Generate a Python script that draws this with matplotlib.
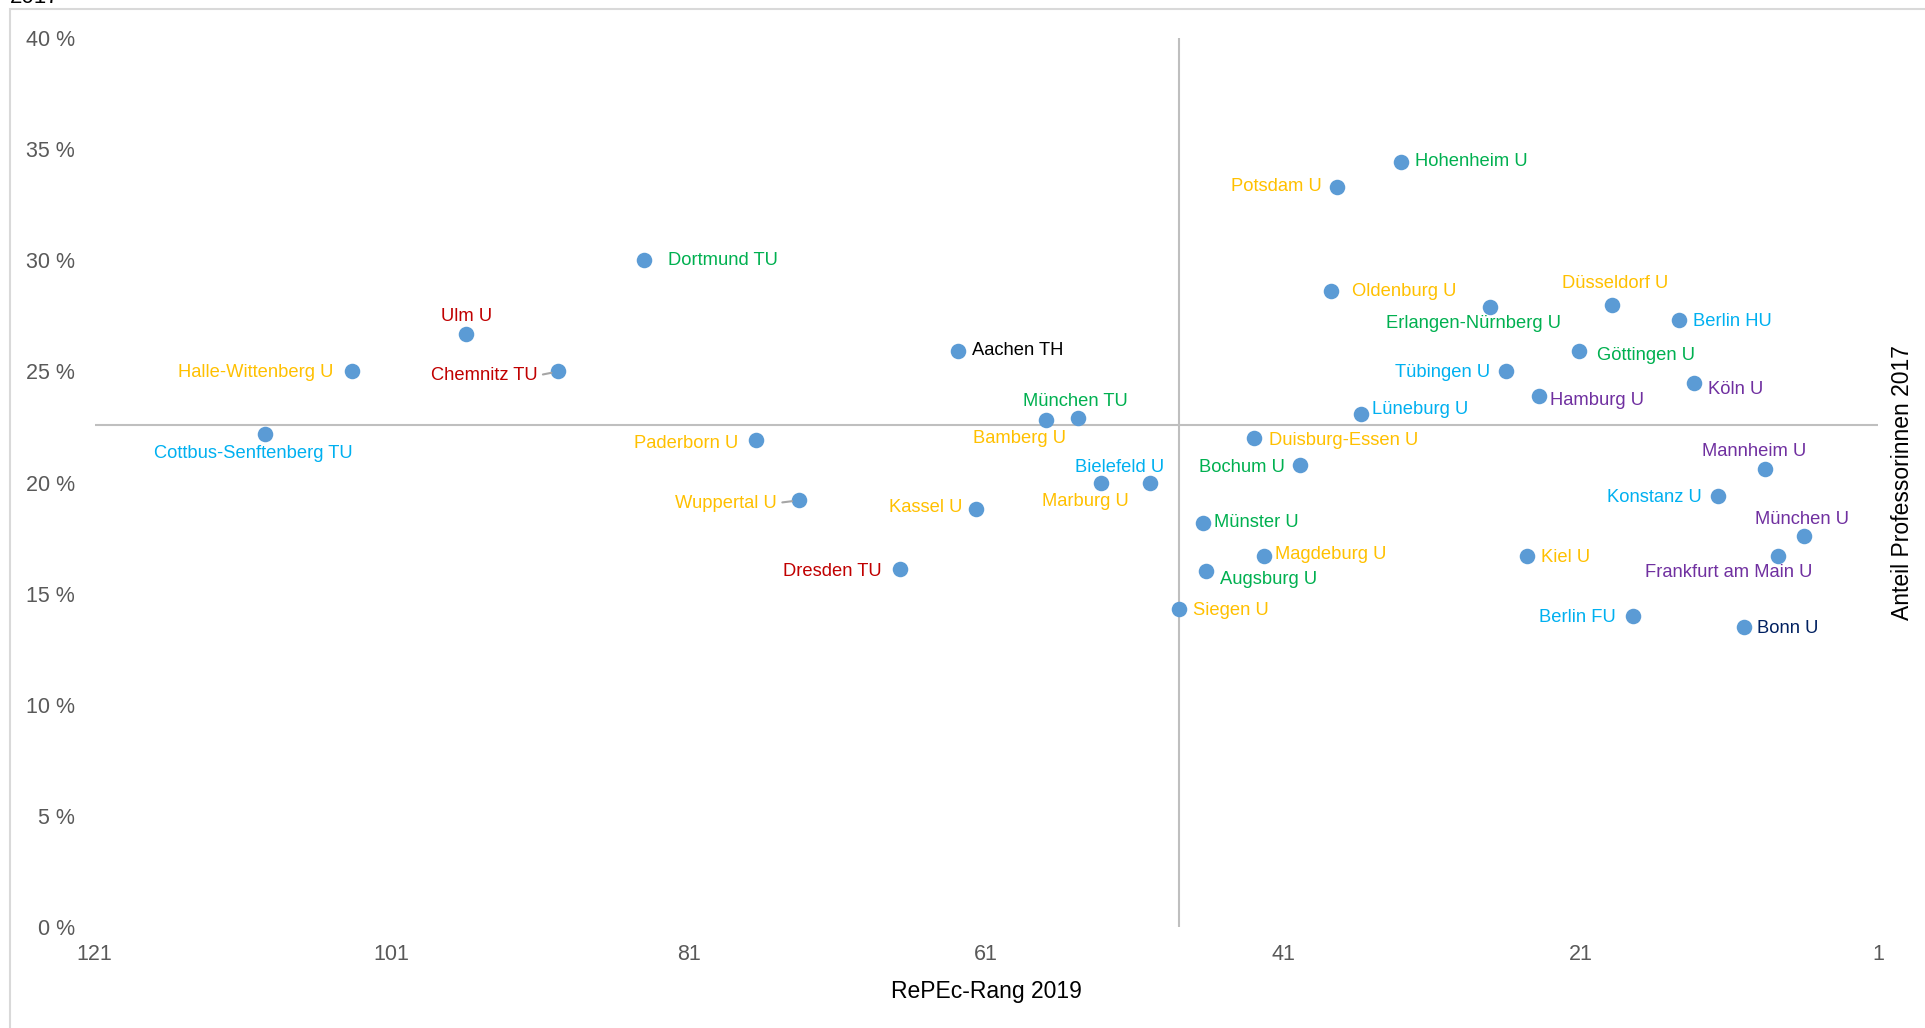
import matplotlib.pyplot as plt
import matplotlib.patches as mpatches
import numpy as np

plt.rcParams['font.family'] = ['Liberation Sans', 'DejaVu Sans']

# RePEc-Rang 2019 vs. Anteil Professorinnen 2017
names = ['Cottbus-Senftenberg TU', 'Halle-Wittenberg U', 'Ulm U', 'Chemnitz TU',
         'Dortmund TU', 'Paderborn U', 'Wuppertal U', 'Dresden TU', 'Aachen TH',
         'Kassel U', 'Bamberg U', 'München TU', 'Bielefeld U', 'Marburg U',
         'Siegen U', 'Münster U', 'Augsburg U', 'Duisburg-Essen U', 'Magdeburg U',
         'Bochum U', 'Oldenburg U', 'Potsdam U', 'Lüneburg U', 'Hohenheim U',
         'Erlangen-Nürnberg U', 'Tübingen U', 'Kiel U', 'Hamburg U', 'Göttingen U',
         'Düsseldorf U', 'Berlin FU', 'Berlin HU', 'Köln U', 'Konstanz U',
         'Bonn U', 'Mannheim U', 'Frankfurt am Main U', 'München U']
rang = [109.5, 103.7, 96, 89.8, 84, 76.5, 73.6, 66.8, 62.9, 61.7, 57, 54.8, 50, 53.3,
        48, 46.4, 46.2, 43, 42.3, 39.9, 37.8, 37.4, 35.8, 33.1, 27.1, 26, 24.6, 23.8, 21.1,
        18.9, 17.5, 14.4, 13.4, 11.8, 10, 8.6, 7.7, 6]
anteil = [22.2, 25.0, 26.7, 25.0, 30.0, 21.9, 19.2, 16.1, 25.9, 18.8, 22.8, 22.9,
          20.0, 20.0, 14.3, 18.2, 16.0, 22.0, 16.7, 20.8, 28.6, 33.3, 23.1, 34.4,
          27.9, 25.0, 16.7, 23.9, 25.9, 28.0, 14.0, 27.3, 24.5, 19.4, 13.5, 20.6,
          16.7, 17.6]
gruppe = ['blau', 'orange', 'rot', 'rot', 'gruen', 'orange', 'orange', 'rot', 'schwarz',
          'orange', 'orange', 'gruen', 'blau', 'orange', 'orange', 'gruen', 'gruen',
          'orange', 'orange', 'gruen', 'orange', 'orange', 'blau', 'gruen', 'gruen',
          'blau', 'orange', 'lila', 'gruen', 'orange', 'blau', 'blau', 'lila', 'blau',
          'navy', 'lila', 'lila', 'lila']
mittel_rang = 48
mittel_anteil = 22.6
x_ticks = [121, 101, 81, 61, 41, 21, 1]
y_ticks = [0, 5, 10, 15, 20, 25, 30, 35, 40]

farben = {'orange': '#FFC000', 'gruen': '#00B050', 'rot': '#C00000', 'blau': '#00B0F0',
          'lila': '#7030A0', 'navy': '#002060', 'schwarz': '#000000'}

# label placement: (dx, dy) in points, ha
plc = {
    'Cottbus-Senftenberg TU': (-9, -14, 'center'), 'Halle-Wittenberg U': (-13, -1, 'right'),
    'Ulm U': (0, 12, 'center'), 'Chemnitz TU': (-15, -3, 'right'),
    'Dortmund TU': (17, 0, 'left'), 'Paderborn U': (-13, -2, 'right'),
    'Wuppertal U': (-16, -2, 'right'), 'Dresden TU': (-13, -2, 'right'),
    'Aachen TH': (10, 1, 'left'), 'Kassel U': (-10, 1, 'right'),
    'Bamberg U': (-19, -13, 'center'), 'München TU': (-2, 12, 'center'),
    'Bielefeld U': (-22, 11, 'center'), 'Marburg U': (-11, -14, 'center'),
    'Siegen U': (10, -1, 'left'), 'Münster U': (8, 0, 'left'),
    'Augsburg U': (10, -6, 'left'), 'Duisburg-Essen U': (11, -2, 'left'),
    'Magdeburg U': (8, 1, 'left'), 'Bochum U': (-11, -2, 'right'),
    'Oldenburg U': (15, 0, 'left'), 'Potsdam U': (-11, 0, 'right'),
    'Lüneburg U': (8, 3, 'left'), 'Hohenheim U': (10, 1, 'left'),
    'Erlangen-Nürnberg U': (-12, -12, 'center'), 'Tübingen U': (-12, -1, 'right'),
    'Kiel U': (10, -1, 'left'), 'Hamburg U': (8, -3, 'left'),
    'Göttingen U': (13, -3, 'left'), 'Düsseldorf U': (2, 15, 'center'),
    'Berlin FU': (-12, -1, 'right'), 'Berlin HU': (10, -1, 'left'),
    'Köln U': (10, -5, 'left'), 'Konstanz U': (-11, -1, 'right'),
    'Bonn U': (9, -1, 'left'), 'Mannheim U': (-8, 13, 'center'),
    'Frankfurt am Main U': (-36, -12, 'center'), 'München U': (-1, 12, 'center'),
}
leader = ['Chemnitz TU', 'Wuppertal U']

fig = plt.figure(figsize=(19.25, 10.28), dpi=100)
ax = fig.add_axes([0.0491, 0.0982, 0.9265, 0.8648])

# outer frame (partly cut off), like the source screenshot
fig.patches.append(mpatches.Rectangle((10 / 1925, -0.1), 1.2, 1.1 - 9 / 1028,
                                      transform=fig.transFigure, fill=False,
                                      edgecolor='#D9D9D9', lw=1.5))
fig.text(10 / 1925, 1 - 3 / 1028, '2017', fontsize=16, color='black',
         ha='left', va='baseline')

ax.axhline(mittel_anteil, color='#BFBFBF', lw=1.5, zorder=1)
ax.axvline(mittel_rang, color='#BFBFBF', lw=1.5, zorder=1)

ax.scatter(rang, anteil, s=125, color='#5B9BD5', zorder=3, linewidths=0)

for n, xr, yv, g in zip(names, rang, anteil, gruppe):
    dx, dy, ha = plc[n]
    kw = {}
    if n in leader:
        kw['arrowprops'] = dict(arrowstyle='-', color='#A6A6A6', lw=1.5,
                                shrinkA=2, shrinkB=5, relpos=(1, 0.5))
    ax.annotate(n, (xr, yv), xytext=(dx, dy), textcoords='offset points',
                ha=ha, va='center', fontsize=13.2, color=farben[g], zorder=4, **kw)

ax.set_xlim(121, 1)
ax.set_ylim(0, 40)
ax.set_xticks(x_ticks)
ax.set_xticklabels([str(t) for t in x_ticks])
ax.set_yticks(y_ticks)
ax.set_yticklabels([f'{t} %' for t in y_ticks])
ax.tick_params(length=0, labelsize=15.5, labelcolor='#595959')
ax.tick_params(axis='y', pad=14)
ax.tick_params(axis='x', pad=12)
for sp in ax.spines.values():
    sp.set_visible(False)

ax.set_xlabel('RePEc-Rang 2019', fontsize=16.5, color='#000000', labelpad=11)
ax.yaxis.set_label_position('right')
ax.set_ylabel('Anteil Professorinnen 2017', fontsize=16.5, color='#000000', labelpad=9)

fig.savefig('out.png', dpi=100)
